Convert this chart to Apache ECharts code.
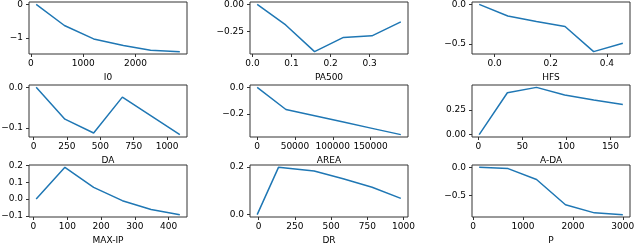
<!DOCTYPE html>
<html><head><meta charset="utf-8">
<script src="https://cdn.jsdelivr.net/npm/echarts@6/dist/echarts.min.js"></script>
<style>html,body{margin:0;padding:0;background:#fff}#c{width:640px;height:243px}</style>
</head><body><div id="c"></div>
<script>
// ---- data ----
const names = ['I0','PA500','HFS','DA','AREA','A-DA','MAX-IP','DR','P'];

const x_I0 = [100, 640, 1200, 1770, 2290, 2850];
const y_I0 = [0, -0.63, -1.03, -1.23, -1.37, -1.41];
const x_PA500 = [0.012, 0.085, 0.159, 0.233, 0.306, 0.38];
const y_PA500 = [0, -0.19, -0.436, -0.305, -0.29, -0.162];
const x_HFS = [-0.055, 0.047, 0.149, 0.251, 0.353, 0.457];
const y_HFS = [0, -0.146, -0.215, -0.279, -0.596, -0.49];
const x_DA = [20, 235, 450, 665, 880, 1095];
const y_DA = [0, -0.078, -0.112, -0.024, -0.07, -0.116];
const x_AREA = [0, 38000, 76000, 114000, 152000, 190000];
const y_AREA = [0, -0.166, -0.213, -0.26, -0.307, -0.354];
const x_ADA = [1, 33, 66, 98, 131, 164];
const y_ADA = [0, 0.427, 0.482, 0.404, 0.352, 0.307];
const x_MAXIP = [8, 93, 178, 263, 348, 433];
const y_MAXIP = [0, 0.188, 0.069, -0.01, -0.063, -0.093];
const x_DR = [-10, 137, 383, 583, 783, 981];
const y_DR = [0, 0.198, 0.183, 0.15, 0.115, 0.068];
const x_P = [120, 700, 1270, 1850, 2430, 3000];
const y_P = [0, -0.022, -0.218, -0.67, -0.815, -0.847];

// tick values and labels
const xt_I0 = [0, 1000, 2000], xl_I0 = ['0','1000','2000'];
const yt_I0 = [0, -1], yl_I0 = ['0','\u22121'];
const xt_PA500 = [0, 0.1, 0.2, 0.3], xl_PA500 = ['0.0','0.1','0.2','0.3'];
const yt_PA500 = [0, -0.25], yl_PA500 = ['0.00','\u22120.25'];
const xt_HFS = [0, 0.2, 0.4], xl_HFS = ['0.0','0.2','0.4'];
const yt_HFS = [0, -0.5], yl_HFS = ['0.0','\u22120.5'];
const xt_DA = [0, 250, 500, 750, 1000], xl_DA = ['0','250','500','750','1000'];
const yt_DA = [0, -0.1], yl_DA = ['0.0','\u22120.1'];
const xt_AREA = [0, 50000, 100000, 150000], xl_AREA = ['0','50000','100000','150000'];
const yt_AREA = [0, -0.2], yl_AREA = ['0.0','\u22120.2'];
const xt_ADA = [0, 50, 100, 150], xl_ADA = ['0','50','100','150'];
const yt_ADA = [0, 0.25], yl_ADA = ['0.00','0.25'];
const xt_MAXIP = [0, 100, 200, 300, 400], xl_MAXIP = ['0','100','200','300','400'];
const yt_MAXIP = [-0.1, 0, 0.1, 0.2], yl_MAXIP = ['\u22120.1','0.0','0.1','0.2'];
const xt_DR = [0, 250, 500, 750, 1000], xl_DR = ['0','250','500','750','1000'];
const yt_DR = [0, 0.2], yl_DR = ['0.0','0.2'];
const xt_P = [0, 1000, 2000, 3000], xl_P = ['0','1000','2000','3000'];
const yt_P = [0, -0.5], yl_P = ['0.0','\u22120.5'];

const panels = [
  [x_I0, y_I0, xt_I0, xl_I0, yt_I0, yl_I0],
  [x_PA500, y_PA500, xt_PA500, xl_PA500, yt_PA500, yl_PA500],
  [x_HFS, y_HFS, xt_HFS, xl_HFS, yt_HFS, yl_HFS],
  [x_DA, y_DA, xt_DA, xl_DA, yt_DA, yl_DA],
  [x_AREA, y_AREA, xt_AREA, xl_AREA, yt_AREA, yl_AREA],
  [x_ADA, y_ADA, xt_ADA, xl_ADA, yt_ADA, yl_ADA],
  [x_MAXIP, y_MAXIP, xt_MAXIP, xl_MAXIP, yt_MAXIP, yl_MAXIP],
  [x_DR, y_DR, xt_DR, xl_DR, yt_DR, yl_DR],
  [x_P, y_P, xt_P, xl_P, yt_P, yl_P]
];

// ---- layout ----
const colLeft = [29, 250, 472];
const rowTop = [2, 85, 165];
const W = 158, H = 52;
const FONT = 'DejaVu Sans';
const SPINE = '#333';

function ext(a) {
  const mn = Math.min(...a), mx = Math.max(...a), r = mx - mn;
  return [mn - 0.05 * r, mx + 0.05 * r];
}
function fmt(ticks, labels) {
  return function (v) {
    let best = 0, bd = Infinity;
    ticks.forEach((t, i) => { const d = Math.abs(t - v); if (d < bd) { bd = d; best = i; } });
    return labels[best];
  };
}

const grid = [], xAxis = [], yAxis = [], series = [];
panels.forEach((p, i) => {
  const [xs, ys, xt, xl, yt, yl] = p;
  const r = Math.floor(i / 3), c = i % 3;
  grid.push({
    left: colLeft[c], top: rowTop[r], width: W, height: H,
    show: true, borderColor: SPINE, borderWidth: 1, backgroundColor: 'transparent',
    containLabel: false, outerBoundsMode: 'none'
  });
  const xe = ext(xs), ye = ext(ys);
  xAxis.push({
    type: 'value', gridIndex: i, min: xe[0], max: xe[1], position: 'bottom',
    name: names[i], nameLocation: 'middle', nameGap: 19,
    nameTextStyle: { fontFamily: FONT, fontSize: 9, color: '#000' },
    axisLine: { show: false, onZero: false },
    axisTick: { show: true, length: 3, inside: false, customValues: xt, lineStyle: { color: SPINE, width: 1 } },
    axisLabel: { show: true, customValues: xt, formatter: fmt(xt, xl), margin: 5,
      fontFamily: FONT, fontSize: 9, color: '#000', hideOverlap: false },
    splitLine: { show: false }
  });
  yAxis.push({
    type: 'value', gridIndex: i, min: ye[0], max: ye[1], position: 'left',
    axisLine: { show: false, onZero: false },
    axisTick: { show: true, length: 3, inside: false, customValues: yt, lineStyle: { color: SPINE, width: 1 } },
    axisLabel: { show: true, customValues: yt, formatter: fmt(yt, yl), margin: 6,
      fontFamily: FONT, fontSize: 9, color: '#000', hideOverlap: false },
    splitLine: { show: false }
  });
  series.push({
    type: 'line', xAxisIndex: i, yAxisIndex: i,
    data: xs.map((x, k) => [x, ys[k]]),
    showSymbol: false, symbol: 'none',
    lineStyle: { color: '#1f77b4', width: 1.5 },
    silent: true
  });
});

const chart = echarts.init(document.getElementById('c'), null, { renderer: 'canvas' });
chart.setOption({ animation: false, grid, xAxis, yAxis, series });
</script>
</body></html>
